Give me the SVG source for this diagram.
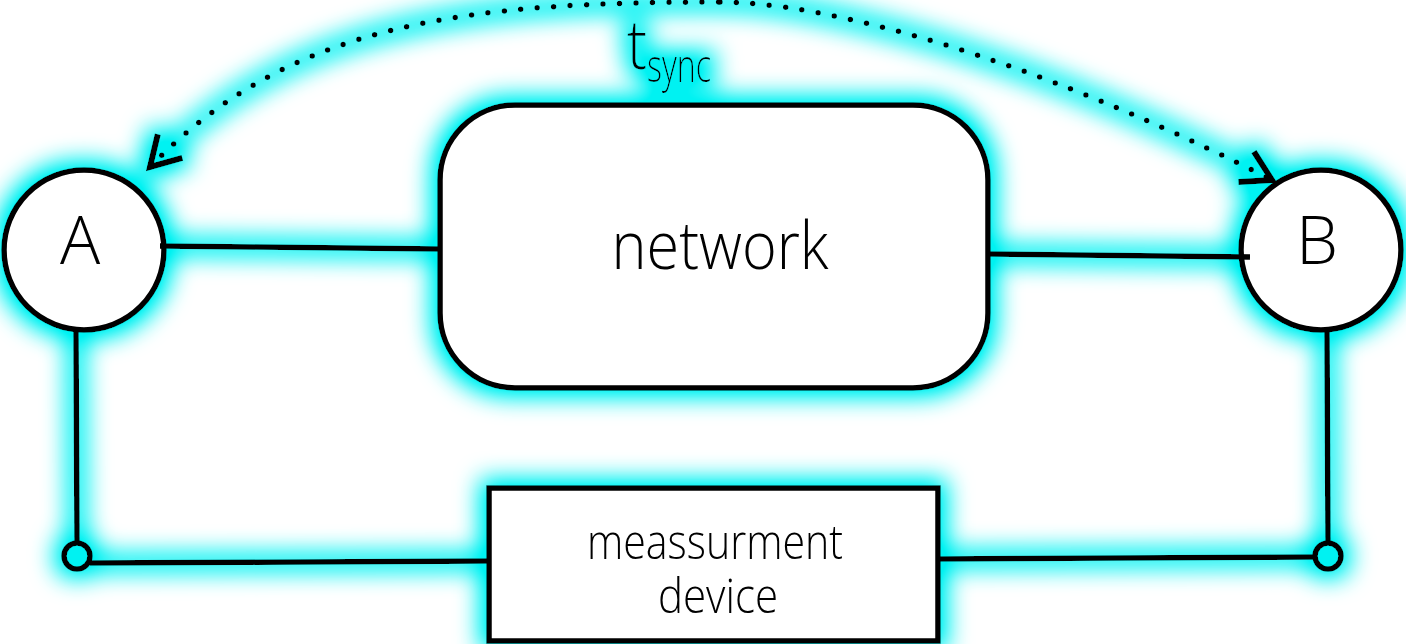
<svg xmlns="http://www.w3.org/2000/svg" width="1406" height="644" viewBox="0 0 1406 644">
  <style>
    .shape { fill: #ffffff; stroke: #000000; stroke-width: 5.5; }
    .port { fill: none; stroke: #000000; stroke-width: 5.5; }
    .wire { fill: none; stroke: #000000; stroke-width: 5.5; }
    .dots { fill: none; stroke: #000000; stroke-width: 5.5; stroke-linecap: round; stroke-dasharray: 0 16.5; }
    .lbl { font-family: "Open Sans", "Liberation Sans", sans-serif; font-weight: 300; fill: #000000; }
  </style>
  <defs>
    <filter id="glow" filterUnits="userSpaceOnUse" x="-60" y="-60" width="1526" height="764">
      <feMorphology in="SourceAlpha" operator="dilate" radius="6" result="d"/>
      <feGaussianBlur in="d" stdDeviation="12" result="b"/>
      <feComponentTransfer in="b" result="bb">
        <feFuncA type="linear" slope="1.3"/>
      </feComponentTransfer>
      <feFlood flood-color="#00f2f2"/>
      <feComposite in2="bb" operator="in" result="g"/>
      <feMerge>
        <feMergeNode in="g"/>
        <feMergeNode in="SourceGraphic"/>
      </feMerge>
    </filter>
    <marker id="arr" viewBox="-40 -25 50 50" refX="0" refY="0" markerWidth="50" markerHeight="50" markerUnits="userSpaceOnUse" orient="auto-start-reverse">
      <path d="M-29,-17 L0,0 L-29,17" fill="none" stroke="#000000" stroke-width="6"/>
    </marker>
  </defs>
  <rect width="1406" height="644" fill="#ffffff"/>
  <g filter="url(#glow)">
    <g id="node-A">
      <circle class="shape" cx="84" cy="250" r="80"/>
      <text class="lbl" x="80" y="264" font-size="67" text-anchor="middle">A</text>
    </g>
    <g id="node-B">
      <circle class="shape" cx="1321" cy="250" r="80"/>
      <text class="lbl" x="1317" y="264" font-size="67" text-anchor="middle">B</text>
    </g>
    <g id="node-network">
      <rect class="shape" x="440" y="105" width="548" height="283" rx="75" ry="75"/>
      <text class="lbl" x="720" y="269" font-size="66" text-anchor="middle" textLength="217" lengthAdjust="spacingAndGlyphs">network</text>
    </g>
    <g id="node-device">
      <rect class="shape" x="489" y="488" width="449" height="153"/>
      <text class="lbl" x="715" y="559" font-size="48" text-anchor="middle" textLength="256" lengthAdjust="spacingAndGlyphs">meassurment</text>
      <text class="lbl" x="718" y="613" font-size="48" text-anchor="middle" textLength="120" lengthAdjust="spacingAndGlyphs">device</text>
    </g>
    <g id="port-A">
      <circle class="port" cx="77" cy="556" r="13"/>
    </g>
    <g id="port-B">
      <circle class="port" cx="1328" cy="556" r="13"/>
    </g>
    <g id="connectors">
      <line class="wire" x1="160" y1="246" x2="440" y2="249"/>
      <line class="wire" x1="988" y1="254" x2="1250" y2="257"/>
      <line class="wire" x1="76" y1="331" x2="77" y2="543"/>
      <line class="wire" x1="1327" y1="331" x2="1328" y2="543"/>
      <line class="wire" x1="90" y1="563" x2="489" y2="561"/>
      <line class="wire" x1="938" y1="559" x2="1315" y2="557"/>
      <path class="dots" d="M150,167 C290,21 470,2 720,2" marker-start="url(#arr)"/>
      <path class="dots" d="M720,2 C820,2 1022,52.5 1272,180" marker-end="url(#arr)"/>
    </g>
    <g id="label-tsync">
      <text class="lbl" x="627" y="69" font-size="68"><tspan textLength="20" lengthAdjust="spacingAndGlyphs">t</tspan><tspan font-size="46" dy="13" textLength="64" lengthAdjust="spacingAndGlyphs">sync</tspan></text>
    </g>
  </g>
</svg>
